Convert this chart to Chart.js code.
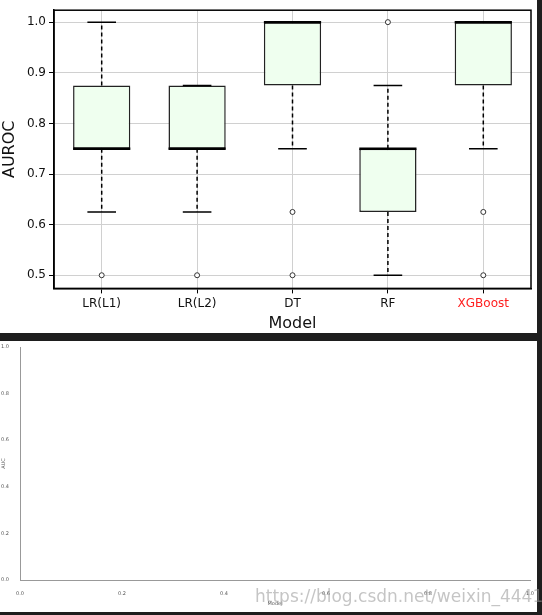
<!DOCTYPE html>
<html><head><meta charset="utf-8">
<script src="https://cdn.jsdelivr.net/npm/chart.js@4"></script>
<style>
body{margin:0;background:#1e1e1e;width:542px;height:615px;position:relative;overflow:hidden;font-family:"DejaVu Sans",sans-serif}
.p{position:absolute;left:0;width:537px;background:#fff}
#wm{position:absolute;left:255px;top:586px;font:17px "DejaVu Sans",sans-serif;color:rgba(150,150,150,0.55);white-space:nowrap}
</style></head><body>
<div class="p" style="top:0;height:333px"><canvas id="top" width="537" height="333"></canvas></div>
<div class="p" style="top:341px;height:271px"><canvas id="bot" width="537" height="271"></canvas></div>
<div id="wm">https://blog.csdn.net/weixin_44412496</div>
<script>
const models = ["LR(L1)", "LR(L2)", "DT", "RF", "XGBoost"];
const whiskerLow = [0.625, 0.625, 0.75, 0.5, 0.75];
const q1 = [0.75, 0.75, 0.875, 0.625, 0.875];
const median = [0.75, 0.75, 1.0, 0.75, 1.0];
const q3 = [0.875, 0.875, 1.0, 0.75, 1.0];
const whiskerHigh = [1.0, 0.875, 1.0, 0.875, 1.0];
const outliers = [[0.5], [0.5], [0.625, 0.5], [1.0], [0.625, 0.5]];
const yTicks = [0.5, 0.6, 0.7, 0.8, 0.9, 1.0];

Chart.defaults.font.family = "'DejaVu Sans', sans-serif";
Chart.defaults.animation = false;

const boxPlugin = {
  id: 'boxParts',
  afterDatasetsDraw(chart) {
    const ctx = chart.ctx, x = chart.scales.x, y = chart.scales.y;
    const half = x.width / models.length * 0.6 / 2;
    ctx.save();
    ctx.strokeStyle = '#000';
    models.forEach((m, i) => {
      const cx = x.getPixelForValue(i);
      ctx.lineWidth = 1.5;
      ctx.setLineDash([4, 3]);
      ctx.beginPath();
      ctx.moveTo(cx, y.getPixelForValue(q1[i])); ctx.lineTo(cx, y.getPixelForValue(whiskerLow[i]));
      ctx.moveTo(cx, y.getPixelForValue(q3[i])); ctx.lineTo(cx, y.getPixelForValue(whiskerHigh[i]));
      ctx.stroke();
      ctx.setLineDash([]);
      ctx.beginPath();
      [whiskerLow[i], whiskerHigh[i]].forEach(v => {
        const py = y.getPixelForValue(v);
        ctx.moveTo(cx - half / 2, py); ctx.lineTo(cx + half / 2, py);
      });
      ctx.stroke();
      ctx.lineWidth = 2.5;
      ctx.beginPath();
      const my = y.getPixelForValue(median[i]);
      ctx.moveTo(cx - half, my); ctx.lineTo(cx + half, my);
      ctx.stroke();
    });
    const a = chart.chartArea;
    ctx.lineWidth = 1.5;
    ctx.strokeRect(a.left, a.top, a.right - a.left, a.bottom - a.top);
    ctx.restore();
  }
};

const outlierPts = [];
outliers.forEach((list, i) => list.forEach(v => outlierPts.push({x: models[i], y: v})));

new Chart(document.getElementById('top'), {
  type: 'bar',
  data: {
    labels: models,
    datasets: [{
      data: models.map((m, i) => [q1[i], q3[i]]),
      backgroundColor: '#efffef',
      borderColor: '#222',
      borderWidth: 1.5,
      borderSkipped: false,
      categoryPercentage: 1,
      barPercentage: 0.6
    }, {
      type: 'line',
      data: outlierPts,
      showLine: false,
      pointRadius: 2.5,
      pointBackgroundColor: '#fff',
      pointBorderColor: '#333',
      pointBorderWidth: 1
    }]
  },
  options: {
    responsive: false,
    layout: {padding: {top: 6, right: 6, left: 0, bottom: 0}},
    plugins: {legend: {display: false}, tooltip: {enabled: false}},
    scales: {
      x: {
        grid: {color: '#d0d0d0', offset: false, tickColor: '#000', tickLength: 5},
        border: {color: '#000', width: 1.5},
        ticks: {font: {size: 12}, color: c => c.index === 4 ? '#ff2020' : '#111'},
        title: {display: true, text: 'Model', font: {size: 16}, color: '#111', padding: 0}
      },
      y: {
        min: 0.474, max: 1.0236,
        afterBuildTicks: ax => { ax.ticks = yTicks.map(v => ({value: v})); },
        afterFit: ax => { ax.width = 54; },
        grid: {color: '#d0d0d0', tickColor: '#000', tickLength: 5},
        border: {color: '#000', width: 1.5},
        ticks: {font: {size: 12}, color: '#111', callback: v => v.toFixed(1)},
        title: {display: true, text: 'AUROC', font: {size: 16}, color: '#111', padding: 0}
      }
    }
  },
  plugins: [boxPlugin]
});

const axisTicks = [0, 0.2, 0.4, 0.6, 0.8, 1.0];
new Chart(document.getElementById('bot'), {
  type: 'scatter',
  data: {datasets: [{data: []}]},
  options: {
    responsive: false,
    layout: {padding: {top: 4, right: 6, left: 0, bottom: 4}},
    plugins: {legend: {display: false}, tooltip: {enabled: false}},
    scales: {
      x: {
        min: 0, max: 1,
        afterBuildTicks: ax => { ax.ticks = axisTicks.map(v => ({value: v})); },
        grid: {display: false, drawOnChartArea: false},
        border: {color: '#999', width: 1},
        ticks: {font: {size: 5}, color: '#555', callback: v => v.toFixed(1), maxRotation: 0},
        title: {display: true, text: 'Model', font: {size: 5}, color: '#555', padding: 1}
      },
      y: {
        min: 0, max: 1,
        afterBuildTicks: ax => { ax.ticks = axisTicks.map(v => ({value: v})); },
        afterFit: ax => { ax.width = 20; },
        grid: {display: false},
        border: {color: '#999', width: 1},
        ticks: {font: {size: 5}, color: '#555', callback: v => v.toFixed(1)},
        title: {display: true, text: 'AUC', font: {size: 5}, color: '#555', padding: 1}
      }
    }
  }
});
</script>
</body></html>
